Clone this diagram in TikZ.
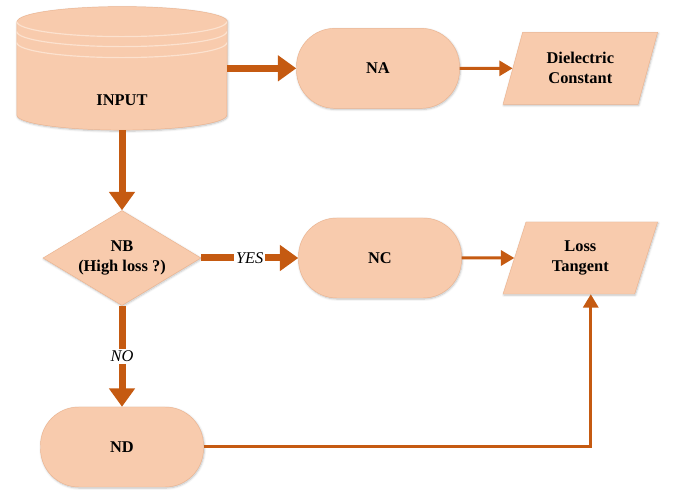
\documentclass[tikz,border=0pt]{standalone}
\usepackage{fontspec}
\setmainfont{Liberation Serif}
\usetikzlibrary{shapes.geometric, arrows.meta, shadows.blur, calc}
\definecolor{peach}{RGB}{248,203,173}
\definecolor{peachedge}{RGB}{236,180,144}
\definecolor{rust}{RGB}{197,90,17}
\definecolor{ringline}{RGB}{252,226,207}
\tikzset{
  softshadow/.style={
    blur shadow={shadow blur steps=6, shadow xshift=0.6pt,
                 shadow yshift=-0.9pt, shadow opacity=25}
  },
  flowtext/.style={font=\fontsize{14}{17}\selectfont\bfseries, align=center},
  terminal/.style={
    flowtext, draw=peachedge, fill=peach, line width=0.4pt,
    minimum width=4.89cm, minimum height=2.4cm, rounded corners=1.15cm,
    softshadow
  },
  datablock/.style={
    flowtext, trapezium, trapezium left angle=72, trapezium right angle=108,
    trapezium stretches=true, draw=peachedge, fill=peach, line width=0.4pt,
    minimum width=4.65cm, minimum height=2.16cm, softshadow
  },
  decision/.style={
    flowtext, diamond, aspect=1.66, inner sep=0pt, draw=peachedge,
    fill=peach, line width=0.4pt, minimum width=4.74cm, minimum height=2.85cm,
    softshadow
  },
  diskbody/.style={draw=peachedge, fill=peach, line width=0.4pt, softshadow},
  ring/.style={ringline, line width=1pt},
  bigflow/.style={draw=rust, line width=0.21cm,
                  -{Triangle[length=0.55cm, width=0.75cm]}},
  thinflow/.style={draw=rust, line width=0.09cm,
                   -{Triangle[length=0.4cm, width=0.45cm]}},
  answer/.style={font=\fontsize{14}{16}\selectfont\itshape, fill=white,
                 inner sep=1.5pt}
}
\newcommand{\diskstack}[1]{%
  \filldraw[diskbody] ($(#1.north west)+(0,-0.45)$) -- ($(#1.south west)+(0,0.45)$)
    arc[start angle=180, end angle=360, x radius=3.15, y radius=0.45]
    -- ($(#1.north east)+(0,-0.45)$)
    arc[start angle=0, end angle=180, x radius=3.15, y radius=0.45] -- cycle;
  \foreach \d in {0,0.3,0.63} {
    \draw[ring] ($(#1.north west)+(0,-0.45-\d)$)
      arc[start angle=180, end angle=360, x radius=3.15, y radius=0.45];
  }
}

\begin{document}
\begin{tikzpicture}
  \useasboundingbox (0,0) rectangle (20.31,-14.73);

  % database
  \node[minimum width=6.3cm, minimum height=3.69cm, inner sep=0pt] (in) at (3.66,-2.05) {};
  \diskstack{in}
  \node[flowtext] (inlabel) at ($(in.center)+(0,-0.95)$) {INPUT};

  \node[terminal] (na) at (11.34,-2.05) {NA};
  \node[datablock] (dc) at (17.41,-2.05) {Dielectric\\Constant};

  \node[decision] (nb) at (3.66,-7.74) {NB\\(High loss ?)};
  \node[terminal] (nc) at (11.4,-7.74) {NC};
  \node[datablock] (lt) at (17.41,-7.74) {Loss\\Tangent};

  \node[terminal] (nd) at (3.66,-13.41) {ND};

  % flow
  \draw[bigflow] (in.east) -- (na.west);
  \draw[thinflow] (na.east) -- (dc.west);
  \draw[bigflow] (in.south) -- (nb.north);
  \draw[bigflow] (nb.east) -- node[answer] {YES} (nc.west);
  \draw[thinflow] (nc.east) -- (lt.west);
  \draw[bigflow] (nb.south) -- node[answer] {NO} (nd.north);
  \draw[thinflow] (nd.east) -| ([xshift=0.66cm]lt.bottom side);
\end{tikzpicture}
\end{document}
